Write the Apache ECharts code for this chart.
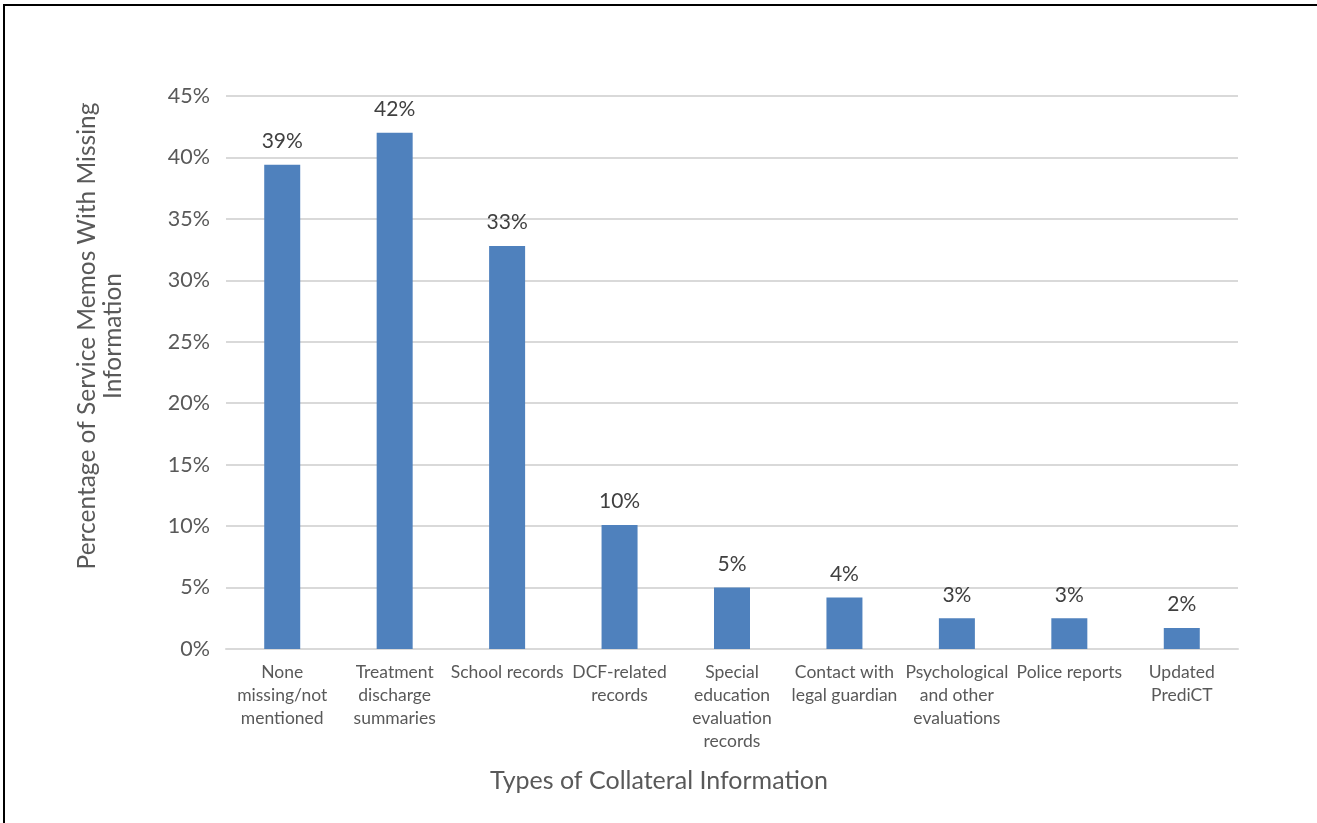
<!DOCTYPE html>
<html>
<head>
<meta charset="utf-8">
<script src="https://cdn.jsdelivr.net/npm/echarts@6/dist/echarts.min.js"></script>
<style>
  html, body { margin: 0; padding: 0; background: #fff; }
  #chart { width: 1317px; height: 823px; }
</style>
</head>
<body>
<div id="chart"></div>
<script>
// Categories of collateral information (line breaks as printed under each bar)
const categories = [
  'None\nmissing/not\nmentioned',
  'Treatment\ndischarge\nsummaries',
  'School records',
  'DCF-related\nrecords',
  'Special\neducation\nevaluation\nrecords',
  'Contact with\nlegal guardian',
  'Psychological\nand other\nevaluations',
  'Police reports',
  'Updated\nPrediCT'
];
// Percentage of service memos with the item missing
const percentMissing = [39.4, 42.0, 32.8, 10.1, 5.0, 4.2, 2.5, 2.5, 1.7];
// Y axis ticks: 0% .. 45% every 5%
const yMin = 0, yMax = 45, yStep = 5;
// Axis titles
const xTitle = 'Types of Collateral Information';
const yTitle = 'Percentage of Service Memos With Missing\nInformation';

const FONT = 'Lato, "Open Sans", sans-serif';
const chart = echarts.init(document.getElementById('chart'), null, { renderer: 'canvas' });

chart.setOption({
  backgroundColor: '#ffffff',
  animation: false,
  grid: { left: 226, right: 79, top: 96, bottom: 174, containLabel: false },
  xAxis: {
    type: 'category',
    data: categories,
    axisLine: { show: true, lineStyle: { color: '#d9d9d9', width: 2 } },
    axisTick: { show: false },
    axisLabel: {
      interval: 0,
      color: '#595959',
      fontFamily: FONT,
      fontSize: 17.5,
      lineHeight: 23,
      margin: 12,
      align: 'center'
    }
  },
  yAxis: {
    type: 'value',
    min: yMin,
    max: yMax,
    interval: yStep,
    axisLine: { show: false },
    axisTick: { show: false },
    splitLine: { lineStyle: { color: '#d9d9d9', width: 2 } },
    axisLabel: {
      formatter: '{value}%',
      color: '#595959',
      fontFamily: FONT,
      fontSize: 21.5,
      margin: 16
    }
  },
  series: [{
    type: 'bar',
    data: percentMissing,
    barWidth: 36,
    itemStyle: { color: '#4f81bd' },
    label: {
      show: true,
      position: 'top',
      distance: 13,
      color: '#404040',
      fontFamily: FONT,
      fontSize: 21,
      formatter: p => Math.round(p.value) + '%'
    }
  }],
  graphic: [
    // frame edges (top and left)
    { type: 'rect', shape: { x: 3, y: 4, width: 1314, height: 2 }, style: { fill: '#000' } },
    { type: 'rect', shape: { x: 3, y: 4, width: 2, height: 819 }, style: { fill: '#000' } },
    // axis titles, centred on the chart area
    {
      type: 'text', x: 659, y: 781,
      style: { text: xTitle, fill: '#595959', font: '25px ' + FONT, textAlign: 'center', textVerticalAlign: 'middle' }
    },
    {
      type: 'text', x: 100, y: 336, rotation: Math.PI / 2,
      style: { text: yTitle, fill: '#595959', font: '24.5px ' + FONT, lineHeight: 26, textAlign: 'center', textVerticalAlign: 'middle' }
    }
  ]
});
</script>
</body>
</html>
